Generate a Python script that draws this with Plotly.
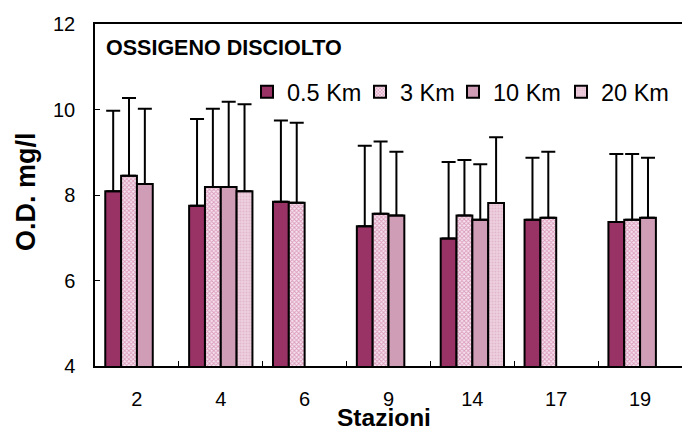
import plotly.graph_objects as go

categories = ["2", "4", "6", "9", "14", "17", "19"]
series_names = ["0.5 Km", "3 Km", "10 Km", "20 Km"]

od_05 = [8.09, 7.75, 7.84, 7.27, 6.98, 7.42, 7.37]
err_05 = [1.88, 2.03, 1.90, 1.88, 1.79, 1.45, 1.59]
od_3 = [8.45, 8.19, 7.82, 7.56, 7.52, 7.47, 7.42]
err_3 = [1.82, 1.83, 1.87, 1.69, 1.30, 1.54, 1.54]
od_10 = [8.26, 8.19, None, 7.52, 7.42, None, 7.47]
err_10 = [1.76, 1.99, None, 1.49, 1.30, None, 1.40]
od_20 = [None, 8.09, None, None, 7.81, None, None]
err_20 = [None, 2.03, None, None, 1.54, None, None]

FONT = "Arial, Liberation Sans, sans-serif"

styles = [
    dict(color="#993366", lw=68),
    dict(color="#F6E4EE", lw=48, pattern=dict(shape="x", size=3, solidity=0.5,
                                              fgcolor="#C0508A", bgcolor="#F6E4EE",
                                              fillmode="overlay")),
    dict(color="#CF9DB6", lw=63),
    dict(color="#E9C7D8", lw=74, pattern=dict(shape=".", size=3, solidity=0.35,
                                              fgcolor="#D4A0BA", bgcolor="#EDCFDE",
                                              fillmode="overlay")),
]

values = [od_05, od_3, od_10, od_20]
errors = [err_05, err_3, err_10, err_20]

fig = go.Figure()
for name, vals, errs, st in zip(series_names, values, errors, styles):
    marker = dict(color=st["color"], line=dict(color="black", width=2))
    if "pattern" in st:
        marker["pattern"] = st["pattern"]
    fig.add_trace(go.Bar(
        x=categories, y=vals, name=name, marker=marker, legendwidth=st["lw"],
        error_y=dict(type="data", symmetric=False, array=errs,
                     arrayminus=[0 if e is not None else None for e in errs],
                     color="black", thickness=2, width=7),
    ))

# the figure is wider than the 682px window so the legend never pushes margins;
# the plot area itself ends exactly at the window's right edge (x = 682)
FIG_W, FIG_H = 780, 430
plot_l, plot_r, plot_t, plot_b = 95, 682, 24, 366

def px_to_paper_x(px):
    return (px - plot_l) / (plot_r - plot_l)

def px_to_paper_y(py):
    return (plot_b - py) / (plot_b - plot_t)

fig.update_layout(
    width=FIG_W, height=FIG_H,
    margin=dict(l=plot_l, r=FIG_W - plot_r, t=plot_t, b=FIG_H - plot_b),
    paper_bgcolor="white", plot_bgcolor="white",
    barmode="group", bargap=0.245, bargroupgap=0,
    font=dict(family=FONT, color="black", size=20),
    showlegend=True,
    legend=dict(orientation="h", x=px_to_paper_x(247), y=px_to_paper_y(92),
                xanchor="left", yanchor="middle",
                font=dict(size=23.5, family=FONT), bgcolor="rgba(0,0,0,0)",
                itemwidth=30, tracegroupgap=0),
    xaxis=dict(type="category", showline=True, linecolor="black", linewidth=1.5,
               mirror=True, ticks="inside", ticklen=5, tickcolor="black",
               tickson="boundaries", showgrid=False, ticklabelstandoff=14,
               tickfont=dict(size=20, family=FONT)),
    yaxis=dict(range=[4, 12], dtick=2, showline=True, linecolor="black", linewidth=1.5,
               ticks="inside", ticklen=5, tickcolor="black", showgrid=False,
               zeroline=False, ticklabelstandoff=14,
               tickfont=dict(size=20, family=FONT)),
    annotations=[
        dict(text="<b>OSSIGENO DISCIOLTO</b>", x=px_to_paper_x(104), y=px_to_paper_y(48),
             xref="paper", yref="paper", xanchor="left", yanchor="middle", showarrow=False,
             font=dict(size=21.5, family=FONT)),
        dict(text="<b>Stazioni</b>", x=px_to_paper_x(384), y=px_to_paper_y(418),
             xref="paper", yref="paper", xanchor="center", yanchor="middle",
             showarrow=False, font=dict(size=24.5, family=FONT)),
        dict(text="<b>O.D. mg/l</b>", x=px_to_paper_x(26), y=px_to_paper_y(192),
             xref="paper", yref="paper", xanchor="center", yanchor="middle",
             showarrow=False, textangle=-90, font=dict(size=27, family=FONT)),
    ],
)

fig.write_html(
    "out.html",
    config={"displayModeBar": False},
    post_script="document.body.style.margin='0px';document.body.style.overflow='hidden';",
)
